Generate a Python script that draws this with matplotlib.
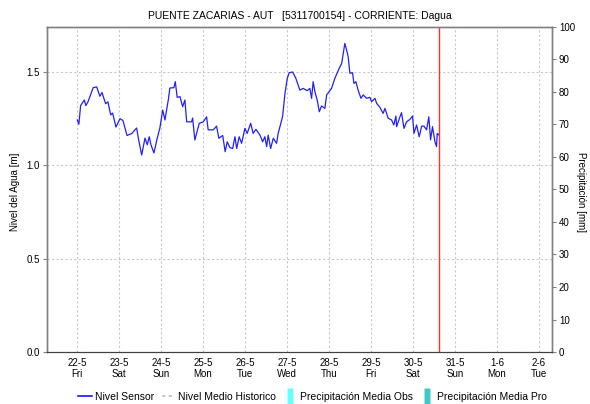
import numpy
import datetime
import matplotlib
matplotlib.use('Agg')
import matplotlib.pylab as plot
from matplotlib.lines import Line2D

# Data (hours since 22-5-2020 00:00, water level in m)
start = datetime.datetime(2020, 5, 22)
hours = [0.2, 1.1, 2.1, 4.2, 5.1, 6.3, 9.3, 11.3, 13.1, 14.3, 16.4, 17.7, 19.3, 20.4, 22.3,
         24.6, 26.3, 28.6, 31.3, 34.1, 35.0, 37.0, 38.9, 40.2, 41.3, 42.3, 44.0, 45.9, 47.4,
         49.0, 50.3, 52.2, 53.1, 55.4, 56.2, 57.3, 58.9, 60.4, 61.7, 62.7, 65.5, 66.1, 67.4,
         69.9, 72.2, 74.1, 75.0, 77.9, 79.8, 81.1, 83.3, 84.7, 85.9, 87.4, 89.0, 90.3, 91.3,
         92.7, 94.1, 96.0, 97.3, 99.3, 100.7, 102.3, 104.6, 106.1, 107.4, 108.4, 109.3, 110.7,
         112.2, 114.1, 115.0, 116.0, 117.5, 118.9, 120.2, 121.3, 123.3, 125.1, 127.4, 129.3,
         131.6, 133.1, 134.1, 135.0, 136.0, 137.3, 138.5, 139.8, 141.7, 142.7, 145.5, 147.4,
         149.9, 151.3, 152.2, 153.1, 154.1, 155.0, 156.0, 157.5, 158.3, 159.4, 160.7, 162.3,
         163.6, 165.5, 167.4, 168.4, 170.3, 171.3, 173.1, 175.0, 176.0, 177.9, 179.8, 181.1,
         182.3, 182.7, 184.6, 185.5, 186.9, 188.4, 190.3, 191.8, 192.6, 194.1, 195.6, 197.0,
         198.3, 199.8, 201.1, 202.1, 203.2, 204.6, 205.5, 205.9, 206.9]
nivel = [1.243, 1.22, 1.32, 1.35, 1.32, 1.34, 1.416, 1.42, 1.37, 1.39, 1.33, 1.34, 1.27, 1.28, 1.205,
         1.25, 1.24, 1.16, 1.17, 1.20, 1.15, 1.055, 1.146, 1.11, 1.153, 1.11, 1.066, 1.146, 1.20,
         1.296, 1.243, 1.35, 1.414, 1.416, 1.448, 1.364, 1.368, 1.314, 1.35, 1.233, 1.233, 1.253, 1.136,
         1.225, 1.233, 1.26, 1.19, 1.19, 1.21, 1.145, 1.16, 1.073, 1.126, 1.095, 1.09, 1.153, 1.09,
         1.153, 1.118, 1.198, 1.171, 1.225, 1.171, 1.193, 1.162, 1.126, 1.153, 1.10, 1.162, 1.09,
         1.145, 1.118, 1.171, 1.207, 1.26, 1.386, 1.466, 1.496, 1.50, 1.466, 1.403, 1.412,
         1.40, 1.412, 1.359, 1.448, 1.394, 1.35, 1.287, 1.318, 1.305, 1.377, 1.412, 1.466,
         1.52, 1.546, 1.60, 1.653, 1.618, 1.582, 1.493, 1.496, 1.439, 1.448, 1.403, 1.359,
         1.377, 1.359, 1.364, 1.341, 1.359, 1.332, 1.311, 1.278, 1.305, 1.252, 1.243, 1.216,
         1.264, 1.207, 1.26, 1.282, 1.198, 1.233, 1.246, 1.264, 1.171, 1.216, 1.153, 1.21,
         1.21, 1.19, 1.26, 1.136, 1.207, 1.126, 1.10, 1.171, 1.162]
now_hour = 207.0
day_labels = ['22-5\nFri', '23-5\nSat', '24-5\nSun', '25-5\nMon', '26-5\nTue', '27-5\nWed',
              '28-5\nThu', '29-5\nFri', '30-5\nSat', '31-5\nSun', '1-6\nMon', '2-6\nTue']
left_ticks = [0.0, 0.5, 1.0, 1.5]
right_ticks = list(range(0, 101, 10))

plot.rcParams['font.family'] = ['Liberation Sans', 'DejaVu Sans']
plot.rcParams['font.size'] = 7

times = [start + datetime.timedelta(hours=h) for h in hours]
days = [start + datetime.timedelta(days=i) for i in range(len(day_labels))]

f = plot.figure(figsize=[5.9, 4.04], dpi=100)
ax = f.add_axes([0.0797, 0.1287, 0.8559, 0.8045])
ax2 = ax.twinx()

ax.plot(times, nivel, color='#2020ff', linewidth=0.9)
ax.axvline(start + datetime.timedelta(hours=now_hour), color='#ff3030', linewidth=1.0)

ax.set_xlim(start - datetime.timedelta(hours=17.1), start + datetime.timedelta(hours=271.5))
ax.set_ylim(0, 1.741)
ax2.set_ylim(0, 100)

ax.set_xticks(days)
ax.set_xticklabels(day_labels, fontsize=7)
ax.set_yticks(left_ticks)
ax.yaxis.set_major_formatter(plot.FormatStrFormatter('%.1f'))
ax2.set_yticks(right_ticks)

ax.grid(True, linestyle=(0, (2, 2)), color='#c8c8c8', linewidth=0.8)
ax.tick_params(axis='x', length=0, pad=4)
ax.tick_params(axis='y', length=3, width=0.8, color='#808080', pad=2)
ax2.tick_params(axis='y', length=3, width=0.8, color='#808080', pad=2, labelsize=7)

for a in (ax, ax2):
    for side in ('top', 'left', 'right'):
        a.spines[side].set_color('#808080')
        a.spines[side].set_linewidth(1.0)
    a.spines['bottom'].set_linestyle((0, (1, 1)))
    a.spines['bottom'].set_color('#404040')

# Axis labels placed in figure coords so the right one is not clipped
f.text(0.026, 0.525, 'Nivel del Agua [m]', rotation=90, ha='center', va='center', fontsize=7)
f.text(0.984, 0.525, 'Precipitación [mm]', rotation=-90, ha='center', va='center', fontsize=7)
ax.set_title('PUENTE ZACARIAS - AUT   [5311700154] - CORRIENTE: Dagua', fontsize=7.5, pad=6)

# narrow tall box used as the precipitation legend key
box = [(-0.4, -1), (0.4, -1), (0.4, 1), (-0.4, 1)]
handles = [Line2D([], [], color='#0000ff', linewidth=1.1),
           Line2D([], [], color='#c0c0c0', linestyle=(0, (2, 2)), linewidth=1.2),
           Line2D([], [], color='none', marker=box, markersize=11, markerfacecolor='#66ffff', markeredgecolor='none'),
           Line2D([], [], color='none', marker=box, markersize=11, markerfacecolor='#40c8c8', markeredgecolor='none')]
labels = ['Nivel Sensor', 'Nivel Medio Historico', 'Precipitación Media Obs', 'Precipitación Media Pro']
f.legend(handles, labels, loc='center', bbox_to_anchor=(0.53, 0.018), ncol=4, frameon=False,
         fontsize=7.5, handlelength=1.3, handletextpad=0.3, columnspacing=0.7)

plot.savefig('out.png', dpi=100)
plot.close()
